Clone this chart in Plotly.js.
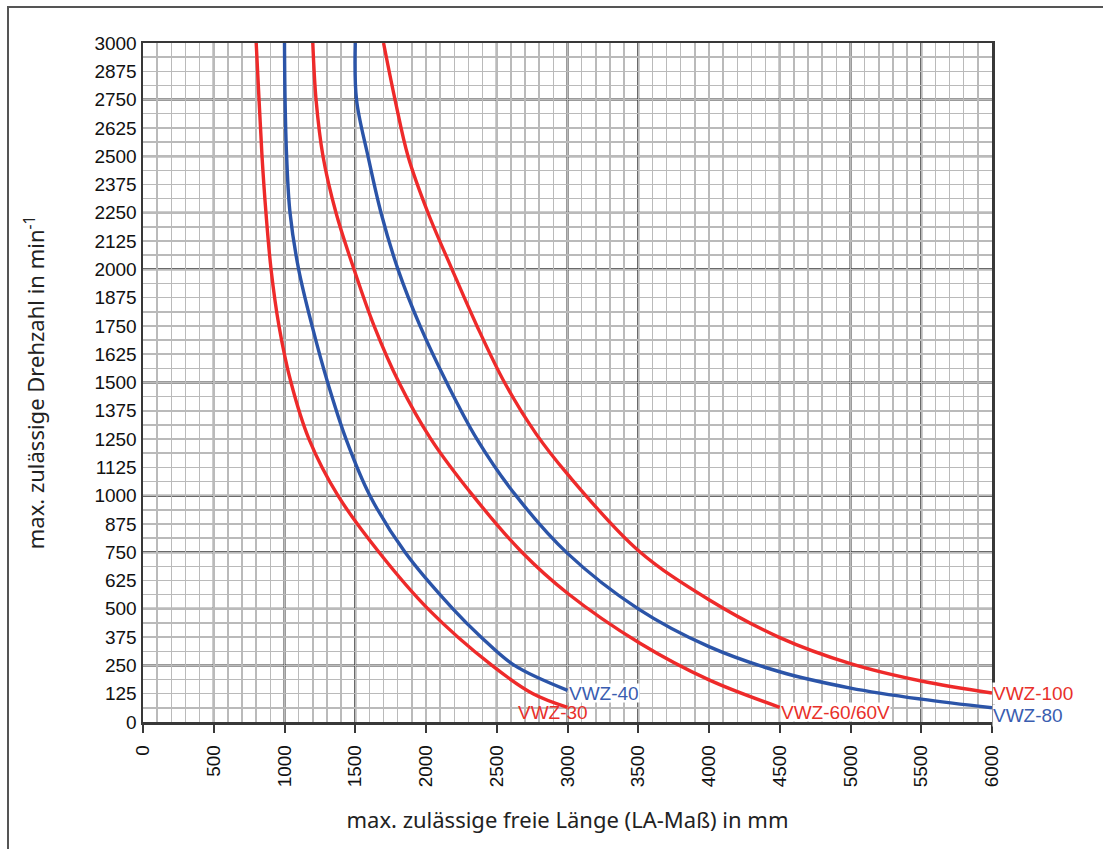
<!DOCTYPE html>
<html>
<head>
<meta charset="utf-8">
<script src="https://cdn.plot.ly/plotly-3.0.1.min.js"></script>
<style>
html,body{margin:0;padding:0;background:#fff;}
#frame{position:absolute;left:7px;top:6px;width:1096px;height:843px;border-left:2px solid #555;border-top:2px solid #555;}
#chart{position:absolute;left:0;top:0;width:1103px;height:849px;}
</style>
</head>
<body>
<div id="frame"></div>
<div id="chart"></div>
<script>
// ---- data ----
const x30  = [800, 820, 841, 869, 905, 961, 1046, 1173, 1378, 1668, 2014, 2466, 2756, 3000];
const y30  = [3000, 2750, 2500, 2250, 2000, 1750, 1500, 1250, 1000, 750, 500, 250, 125, 65];

const x40  = [1000, 1004, 1015, 1039, 1100, 1195, 1305, 1435, 1604, 1852, 2190, 2390, 2625, 3000];
const y40  = [3000, 2750, 2500, 2250, 2000, 1750, 1500, 1250, 1000, 750, 500, 375, 250, 140];

const x60  = [1200, 1223, 1272, 1364, 1491, 1633, 1809, 2035, 2332, 2678, 3000, 3512, 4000, 4500];
const y60  = [3000, 2750, 2500, 2250, 2000, 1750, 1500, 1250, 1000, 750, 569, 348, 186, 65];

const x80  = [1500, 1509, 1590, 1682, 1802, 1958, 2146, 2360, 2636, 3000, 3500, 4000, 4500, 5000, 5500, 6000];
const y80  = [3000, 2750, 2500, 2250, 2000, 1750, 1500, 1250, 1000, 745, 500, 333, 222, 150, 101, 63];

const x100 = [1700, 1781, 1873, 2014, 2184, 2360, 2555, 2777, 3000, 3500, 4000, 4500, 5000, 5500, 6000];
const y100 = [3000, 2750, 2500, 2250, 2000, 1750, 1500, 1274, 1095, 758, 540, 373, 258, 181, 128];

const seriesNames = ['VWZ-30', 'VWZ-40', 'VWZ-60/60V', 'VWZ-80', 'VWZ-100'];
const xTicks = [0, 500, 1000, 1500, 2000, 2500, 3000, 3500, 4000, 4500, 5000, 5500, 6000];
const yTicks = [0,125,250,375,500,625,750,875,1000,1125,1250,1375,1500,1625,1750,1875,2000,2125,2250,2375,2500,2625,2750,2875,3000];
const xMajorLines = [500, 1000, 1500, 2000, 2500, 3000, 3500, 4000, 4500, 5000, 5500];
const yMajorLines = [250, 500, 750, 1000, 1250, 1500, 1750, 2000, 2250, 2500, 2750];

const RED = '#EE2A2A';
const BLUE = '#2B54A8';

const mk = (x, y, c, name) => ({
  x: x, y: y, name: name, type: 'scatter', mode: 'lines',
  line: {color: c, width: 3.4, shape: 'spline', smoothing: 1},
  hoverinfo: 'x+y+name', showlegend: false
});

const traces = [
  mk(x30, y30, RED, seriesNames[0]),
  mk(x40, y40, BLUE, seriesNames[1]),
  mk(x60, y60, RED, seriesNames[2]),
  mk(x80, y80, BLUE, seriesNames[3]),
  mk(x100, y100, RED, seriesNames[4])
];

const DARK = '#383838';
const shapes = [];
xMajorLines.forEach(v => shapes.push({type:'line', xref:'x', yref:'paper', x0:v, x1:v, y0:0, y1:1, layer:'between', line:{color:DARK, width:2}}));
yMajorLines.forEach(v => shapes.push({type:'line', xref:'paper', yref:'y', x0:0, x1:1, y0:v, y1:v, layer:'between', line:{color:DARK, width:2}}));

const labFont = (c) => ({family: 'Liberation Sans, Arial, sans-serif', size: 19, color: c});
const annotations = [
  {x: x30[x30.length-1], y: 40, xref:'x', yref:'y', text: seriesNames[0], showarrow:false, xanchor:'right', yanchor:'middle', xshift: 22, font: labFont('#E8302A')},
  {x: x40[x40.length-1], y: 128, xref:'x', yref:'y', text: seriesNames[1], showarrow:false, xanchor:'left', yanchor:'middle', height: 18, font: labFont('#3A5DB0'), bgcolor:'#fff', borderpad:0},
  {x: x60[x60.length-1], y: 42, xref:'x', yref:'y', text: seriesNames[2], showarrow:false, xanchor:'left', yanchor:'middle', height: 18, font: labFont('#E8302A'), bgcolor:'#fff', borderpad:0},
  {x: x80[x80.length-1], y: 27, xref:'x', yref:'y', text: seriesNames[3], showarrow:false, xanchor:'left', yanchor:'middle', font: labFont('#3A5DB0'), bgcolor:'#fff', borderpad:0},
  {x: x100[x100.length-1], y: 128, xref:'x', yref:'y', text: seriesNames[4], showarrow:false, xanchor:'left', yanchor:'middle', font: labFont('#E8302A'), bgcolor:'#fff', borderpad:0}
];

const tickFont = {family: 'Liberation Sans, Arial, sans-serif', size: 19, color: '#111'};
const titleFont = {family: 'Noto Sans, Open Sans, sans-serif', size: 22, color: '#222'};
const LIGHT = '#bababa';

const layout = {
  width: 1103, height: 849,
  paper_bgcolor: 'rgba(0,0,0,0)', plot_bgcolor: '#fff',
  margin: {l: 143, r: 111, t: 43, b: 127},
  showlegend: false,
  xaxis: {
    range: [0, 6000], autorange: false, fixedrange: true,
    tickvals: xTicks, ticktext: xTicks.map(String), tickangle: -90,
    ticks: 'outside', ticklen: 8, tickwidth: 2, tickcolor: DARK,
    ticklabelstandoff: 5,
    tickfont: tickFont,
    showgrid: true, gridcolor: LIGHT, gridwidth: 1.5,
    minor: {dtick: 100, tick0: 0, showgrid: true, gridcolor: LIGHT, gridwidth: 1.5, ticks: ''},
    showline: true, mirror: true, linecolor: DARK, linewidth: 2.5,
    zeroline: false,
    title: {text: 'max. zulässige freie Länge (LA-Maß) in mm', font: titleFont, standoff: 26}
  },
  yaxis: {
    range: [0, 3000], autorange: false, fixedrange: true,
    tickvals: yTicks, ticktext: yTicks.map(String),
    ticks: '', tickfont: tickFont,
    showgrid: true, gridcolor: LIGHT, gridwidth: 1.5,
    minor: {dtick: 62.5, tick0: 0, showgrid: true, gridcolor: LIGHT, gridwidth: 1.5, ticks: ''},
    showline: true, mirror: true, linecolor: DARK, linewidth: 2.5,
    zeroline: false,
    title: {text: 'max. zulässige Drehzahl in min<sup>-1</sup>', font: titleFont, standoff: 44}
  },
  shapes: shapes,
  annotations: annotations
};

Plotly.newPlot('chart', traces, layout, {displayModeBar: false, staticPlot: true});
</script>
</body>
</html>
